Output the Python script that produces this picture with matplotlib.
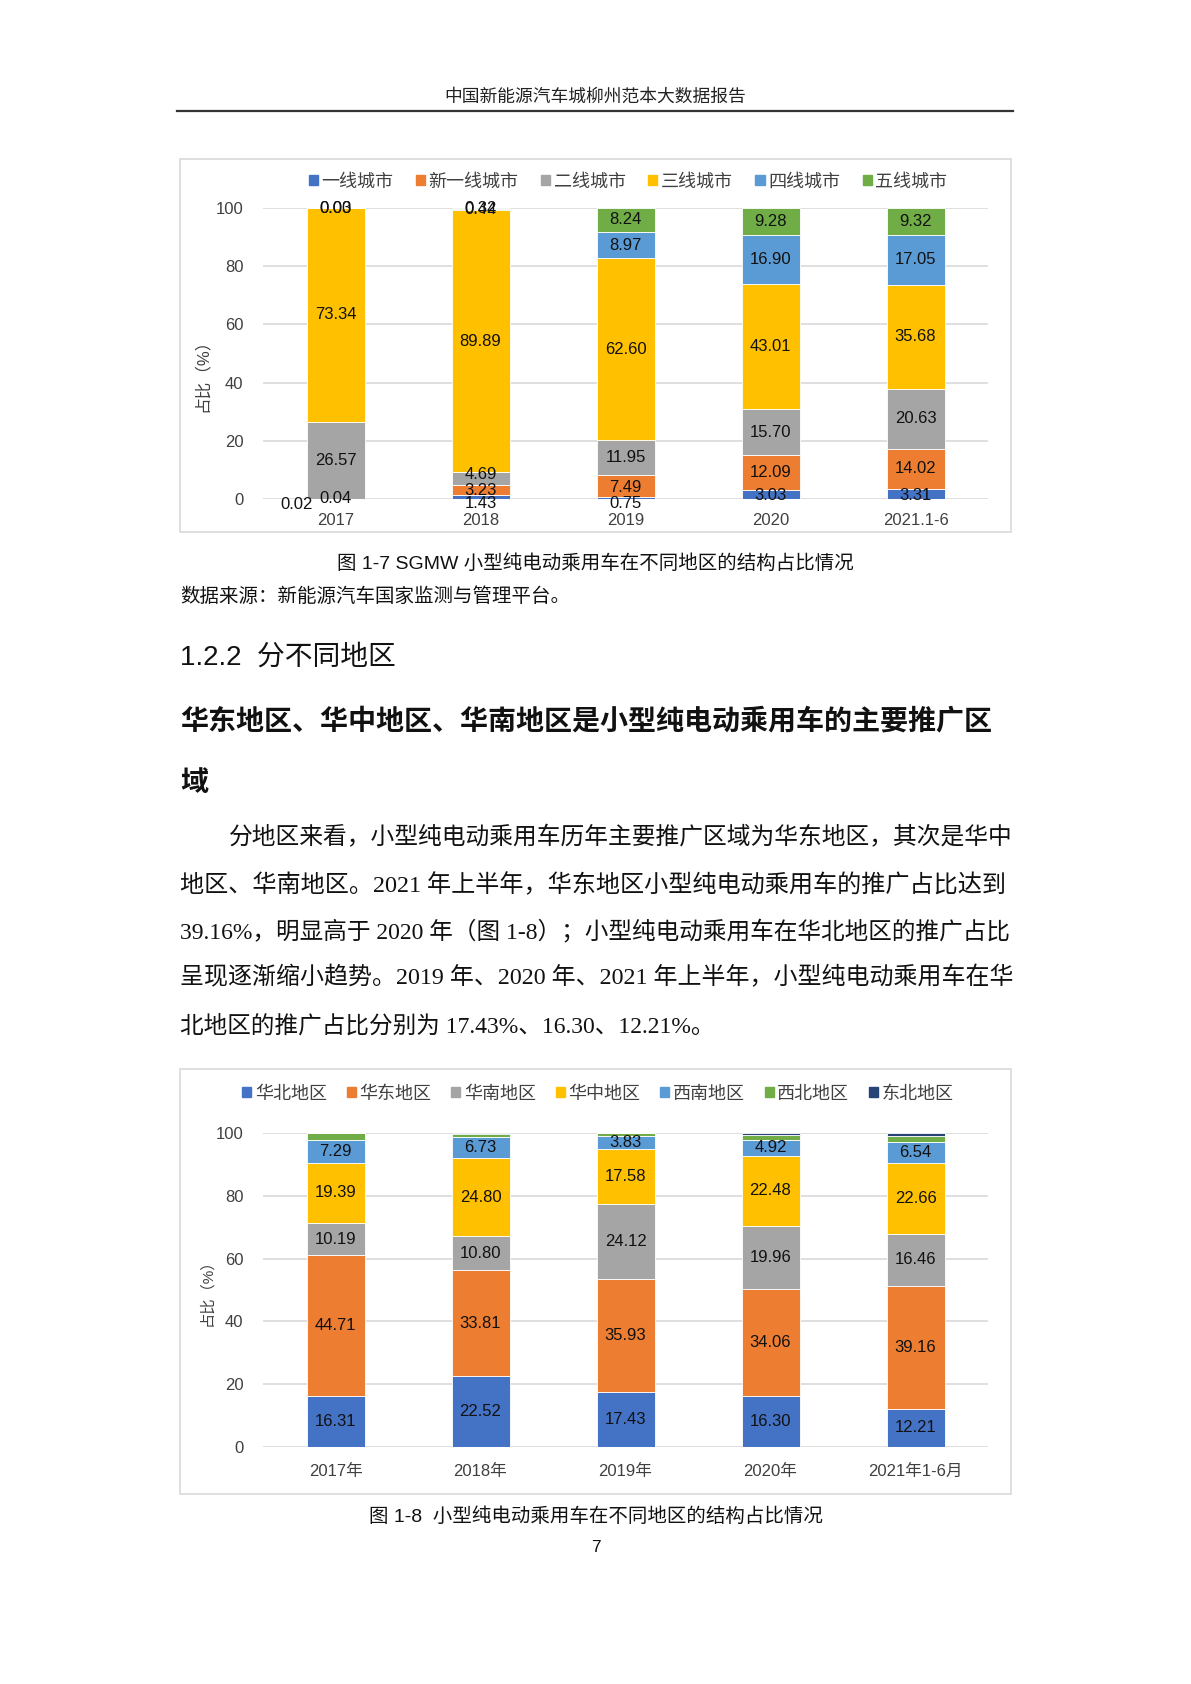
import matplotlib.pyplot as plt
from matplotlib.patches import Patch, Rectangle
import numpy as np

plt.rcParams['font.family'] = ['Liberation Sans', 'Noto Sans CJK SC']

# 图 1-7 data (城市级别)
years1 = ['2017', '2018', '2019', '2020', '2021.1-6']
city_names = ['一线城市', '新一线城市', '二线城市', '三线城市', '四线城市', '五线城市']
tier1 = [0.02, 1.43, 0.75, 3.03, 3.31]
new_tier1 = [0.04, 3.23, 7.49, 12.09, 14.02]
tier2 = [26.57, 4.69, 11.95, 15.70, 20.63]
tier3 = [73.34, 89.89, 62.60, 43.01, 35.68]
tier4 = [0.00, 0.44, 8.97, 16.90, 17.05]
tier5 = [0.03, 0.32, 8.24, 9.28, 9.32]

# 图 1-8 data (地区)
years2 = ['2017年', '2018年', '2019年', '2020年', '2021年1-6月']
region_names = ['华北地区', '华东地区', '华南地区', '华中地区', '西南地区', '西北地区', '东北地区']
north = [16.31, 22.52, 17.43, 16.30, 12.21]
east = [44.71, 33.81, 35.93, 34.06, 39.16]
south = [10.19, 10.80, 24.12, 19.96, 16.46]
central = [19.39, 24.80, 17.58, 22.48, 22.66]
southwest = [7.29, 6.73, 3.83, 4.92, 6.54]
northwest = [2.11, 0.92, 1.01, 1.78, 2.02]
northeast = [0.00, 0.42, 0.10, 0.50, 0.95]

colors = ['#4472C4', '#ED7D31', '#A5A5A5', '#FFC000', '#5B9BD5', '#70AD47', '#264478']

W, H = 1191, 1684
fig = plt.figure(figsize=(W / 100, H / 100), dpi=100)


def fx(px):
    return px / W


def fy(py):
    return 1 - py / H


def stacked(ax, cats, series, names, n_labels, label_shift, xpad):
    x = np.arange(len(cats))
    bottom = np.zeros(len(cats))
    for i, vals in enumerate(series):
        vals = np.array(vals)
        ax.bar(x, vals, 0.4, bottom=bottom, color=colors[i],
               edgecolor='white', linewidth=0.6, label=names[i])
        if i < n_labels:
            for j in range(len(cats)):
                dx, dy = label_shift.get((i, j), (0, 0))
                ax.annotate('%.2f' % vals[j], (x[j], bottom[j] + vals[j] / 2),
                            xytext=(dx, dy), textcoords='offset points',
                            ha='center', va='center', fontsize=12, color='#111111')
        bottom += vals
    ax.set_xlim(-0.5, len(cats) - 0.5)
    ax.set_ylim(0, 100)
    ax.set_yticks(range(0, 101, 20))
    ax.set_xticks(x)
    ax.set_xticklabels(cats)
    ax.yaxis.grid(True, color='#D9D9D9', linewidth=1.2)
    ax.set_axisbelow(True)
    for s in ax.spines.values():
        s.set_visible(False)
    ax.tick_params(axis='both', length=0, labelsize=12, colors='#404040')
    ax.tick_params(axis='y', pad=14)
    ax.tick_params(axis='x', pad=xpad)
    handles = [Patch(color=colors[i]) for i in range(len(names))]
    return handles


# page header
fig.text(0.5, fy(97), '中国新能源汽车城柳州范本大数据报告', ha='center', va='center',
         fontsize=12.8, color='#222222')
fig.add_artist(plt.Line2D([fx(177), fx(1013)], [fy(111), fy(111)], color='#333333', lw=1.6))

# chart 1
fig.add_artist(Rectangle((fx(180), fy(532)), fx(1011) - fx(180), fy(159) - fy(532),
                         fill=False, edgecolor='#D9D9D9', lw=1.2))
ax1 = fig.add_axes([fx(263), fy(499), fx(988) - fx(263), fy(208) - fy(499)])
shift1 = {(0, 0): (-28, -4), (0, 1): (0, -5), (2, 1): (0, 3),
          (0, 2): (0, -4), (1, 2): (0, -1), (0, 3): (0, -1), (0, 4): (0, -1)}
h1 = stacked(ax1, years1, [tier1, new_tier1, tier2, tier3, tier4, tier5], city_names, 6,
             shift1, 10)
fig.legend(h1, city_names, loc='center', bbox_to_anchor=(fx(628), fy(182)), ncol=6,
           frameon=False, fontsize=13, handlelength=0.5, handleheight=0.5,
           handletextpad=0.2, columnspacing=1.25, labelcolor='#404040')
fig.text(fx(202), fy(371), '占比（%）', rotation=90, ha='center', va='center',
         fontsize=12, color='#404040')

fig.text(0.5, fy(564), '图 1-7 SGMW 小型纯电动乘用车在不同地区的结构占比情况', ha='center',
         va='center', fontsize=14, color='#111111')
fig.text(fx(180), fy(597), '数据来源：新能源汽车国家监测与管理平台。', ha='left',
         va='center', fontsize=14, color='#111111')

# section heading
fig.text(fx(180), fy(658), '1.2.2  分不同地区', ha='left', va='center', fontsize=20,
         color='#111111')
fig.text(fx(180), fy(722), '华东地区、华中地区、华南地区是小型纯电动乘用车的主要推广区',
         ha='left', va='center', fontsize=20.2, fontweight='bold', color='#111111')
fig.text(fx(180), fy(784), '域', ha='left', va='center', fontsize=20.2,
         fontweight='bold', color='#111111')

body = ['分地区来看，小型纯电动乘用车历年主要推广区域为华东地区，其次是华中',
        '地区、华南地区。2021 年上半年，华东地区小型纯电动乘用车的推广占比达到',
        '39.16%，明显高于 2020 年（图 1-8）；小型纯电动乘用车在华北地区的推广占比',
        '呈现逐渐缩小趋势。2019 年、2020 年、2021 年上半年，小型纯电动乘用车在华',
        '北地区的推广占比分别为 17.43%、16.30、12.21%。']
body_y = [838, 885, 931, 978, 1026]
body_size = [17.1, 17.4, 17.0, 17.25, 17]
for k, line in enumerate(body):
    x0 = 229 if k == 0 else 180
    fig.text(fx(x0), fy(body_y[k]), line, ha='left', va='center', fontsize=body_size[k],
             family=['Liberation Serif', 'Noto Sans CJK SC'], color='#111111')

# chart 2
fig.add_artist(Rectangle((fx(180), fy(1494)), fx(1011) - fx(180), fy(1069) - fy(1494),
                         fill=False, edgecolor='#D9D9D9', lw=1.2))
ax2 = fig.add_axes([fx(263), fy(1447), fx(988) - fx(263), fy(1133) - fy(1447)])
h2 = stacked(ax2, years2, [north, east, south, central, southwest, northwest, northeast],
             region_names, 5, {}, 12)
fig.legend(h2, region_names, loc='center', bbox_to_anchor=(fx(598), fy(1094)), ncol=7,
           frameon=False, fontsize=13, handlelength=0.5, handleheight=0.5,
           handletextpad=0.2, columnspacing=1.1, labelcolor='#404040')
fig.text(fx(207), fy(1289), '占比（%）', rotation=90, ha='center', va='center',
         fontsize=11, color='#404040')

fig.text(0.5, fy(1517), '图 1-8  小型纯电动乘用车在不同地区的结构占比情况', ha='center',
         va='center', fontsize=14, color='#111111')
fig.text(0.5, fy(1548), '7', ha='center', va='center', fontsize=12.5, color='#111111')

fig.savefig('out.png', dpi=100)
